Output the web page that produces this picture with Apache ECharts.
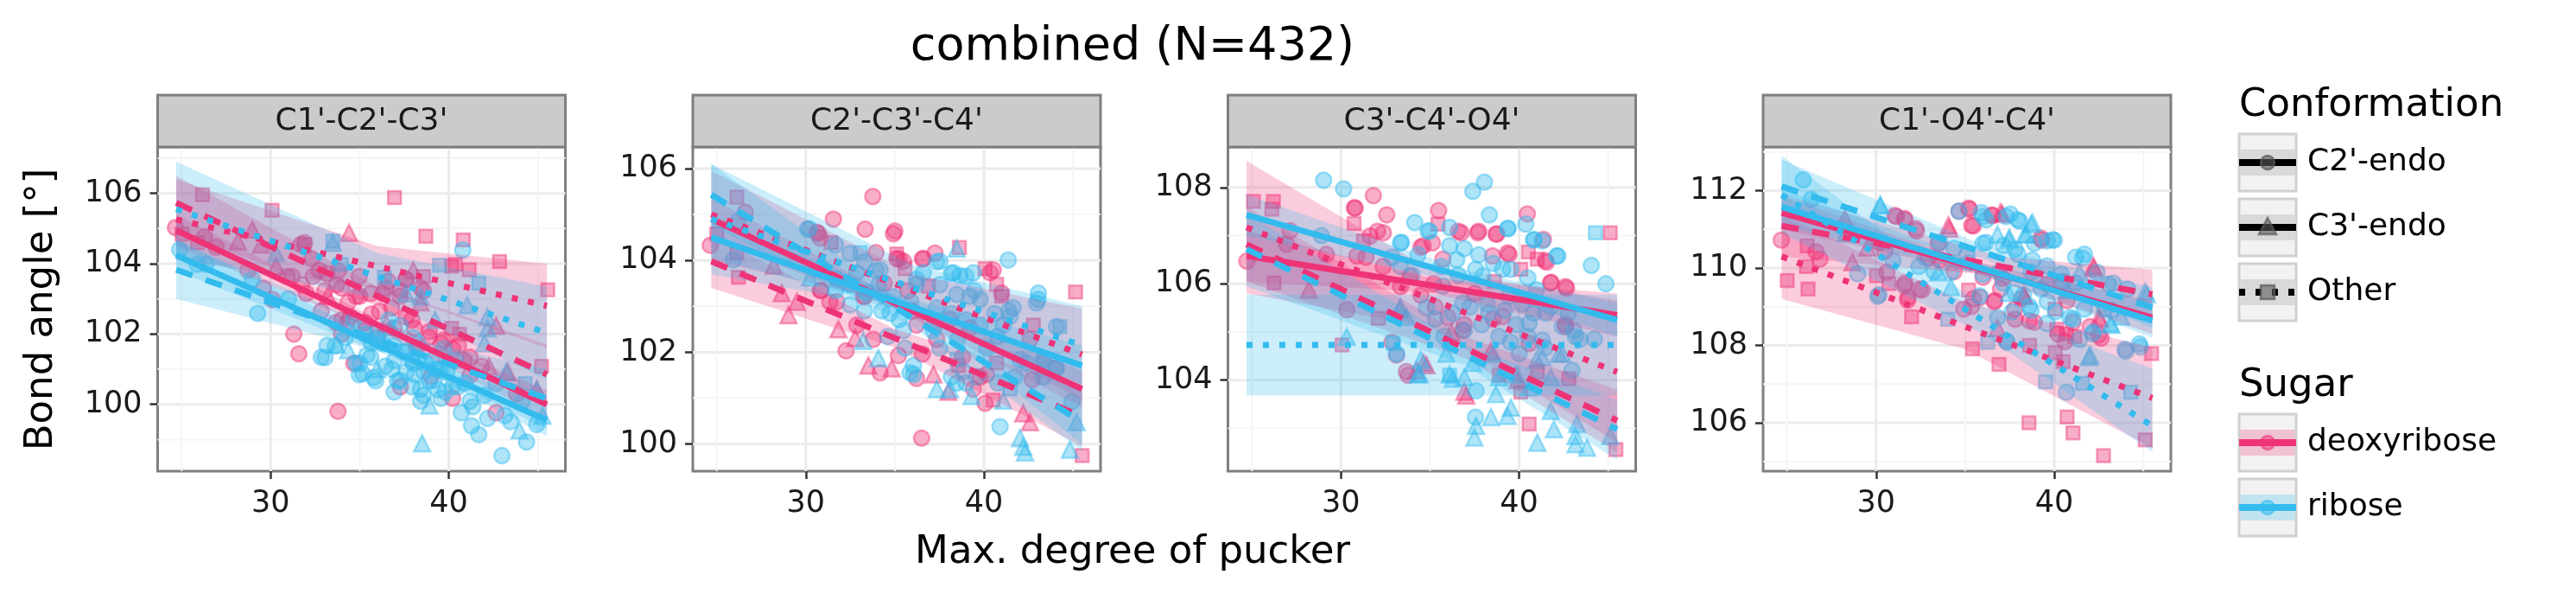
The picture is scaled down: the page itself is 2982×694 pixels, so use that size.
<!DOCTYPE html>
<html>
<head>
    <meta charset="utf-8">
    <title>combined (N=432)</title>
    <script src="https://cdn.jsdelivr.net/npm/echarts@6/dist/echarts.min.js"></script>
    <style>
        html, body { margin: 0; padding: 0; background: #fff; }
        #main { width: 2982px; height: 694px; }
    </style>
</head>
<body>
<div id="main"></div>
<script type="text/javascript">
    // facets and tick labels
    var facets = ["C1'-C2'-C3'", "C2'-C3'-C4'", "C3'-C4'-O4'", "C1'-O4'-C4'"];
    var xRange = [23.66, 46.54];
    var xTicks = [30, 40];
    var xMinor = [25, 35, 45];
    var yRanges = [[98.1, 107.32], [99.41, 106.47], [102.11, 108.84], [104.75, 113.13]];
    var yTicks = [[100, 102, 104, 106], [100, 102, 104, 106], [104, 106, 108], [106, 108, 110, 112]];
    var yMinor = [[99, 101, 103, 105, 107], [101, 103, 105], [103, 105, 107], [105, 107, 109, 111, 113]];

    // fitted lines: x ends shared, rows = [group, yLeft, yRight, loL, hiL, xMid, loM, hiM, loR, hiR]
    var fitX = [24.7, 45.5];
    var p1_fits = [
        ['dC2', 104.95, 100.0, 104.5, 105.4, 36, 102.1, 102.42, 99.6, 100.4],
        ['dC3', 105.73, 100.85, 104.9, 106.5, 36, 102.8, 103.35, 100.0, 101.7],
        ['dO', 105.26, 102.8, 104.1, 106.4, 36, 103.3, 104.5, 101.6, 104.0],
        ['rC2', 104.24, 99.55, 103.8, 104.7, 38, 101.1, 101.4, 99.1, 100.0],
        ['rC3', 103.83, 100.17, 103.0, 104.65, 37, 101.4, 101.95, 99.3, 101.0],
        ['rO', 105.55, 102.03, 104.2, 106.9, 36, 103.0, 104.3, 100.7, 103.35]
    ];
    var p2_fits = [
        ['dC2', 104.9, 101.2, 104.45, 105.35, 35, 102.95, 103.2, 100.8, 101.6],
        ['dC3', 103.98, 100.6, 103.4, 104.55, 35, 102.1, 102.5, 99.95, 101.25],
        ['dO', 105.0, 101.95, 104.0, 105.95, 36, 103.0, 103.7, 100.95, 102.95],
        ['rC2', 104.5, 101.71, 104.05, 104.95, 35, 103.0, 103.25, 101.3, 102.15],
        ['rC3', 105.43, 100.48, 104.75, 106.1, 36, 102.55, 102.95, 99.85, 101.15],
        ['rO', 104.9, 102.15, 103.7, 106.1, 36, 102.9, 103.9, 100.0, 103.0]
    ];
    var p3_fits = [
        ['dC2', 106.58, 105.35, 106.05, 107.1, 35, 105.82, 106.12, 104.9, 105.8],
        ['dC3', 106.82, 103.16, 106.05, 107.6, 37, 104.45, 104.9, 102.5, 103.8],
        ['dO', 107.17, 104.17, 105.8, 108.55, 35, 105.1, 106.3, 102.7, 105.65],
        ['rC2', 107.43, 105.25, 107.0, 107.85, 37, 106.0, 106.28, 104.9, 105.6],
        ['rC3', 106.72, 102.98, 105.95, 107.45, 37, 104.3, 104.72, 102.35, 103.6],
        ['rO', 104.73, 104.73, 103.68, 105.77, 35, 103.68, 105.77, 103.68, 105.77]
    ];
    var p4_fits = [
        ['dC2', 111.43, 108.72, 111.0, 111.85, 35, 109.95, 110.22, 108.3, 109.15],
        ['dC3', 111.09, 109.32, 110.3, 111.9, 37, 109.8, 110.3, 108.7, 109.95],
        ['dO', 110.3, 106.64, 109.2, 111.4, 35, 107.9, 109.1, 105.35, 107.95],
        ['rC2', 111.58, 108.64, 111.1, 112.05, 36, 109.85, 110.12, 108.2, 109.1],
        ['rC3', 112.11, 108.98, 111.45, 112.8, 36, 110.25, 110.6, 108.45, 109.5],
        ['rO', 111.89, 105.92, 110.9, 112.9, 36, 108.3, 109.0, 105.25, 107.4]
    ];

    // points [pucker, angle]  d = deoxyribose, r = ribose, C2 / C3 / O = conformation
    var p1_dC2 = [[24.66,105.03],[26.29,104.76],[26.94,104.47],[28.73,103.81],[30.11,102.98],[31.58,101.44],[33.78,99.8],[31.9,104.6],[30.93,103.64],[31.74,103.4],[32.39,103.64],[33.05,103.23],[33.7,103.4],[34.35,102.9],[35.0,103.07],[35.65,102.57],[36.3,103.15],[36.79,102.74],[37.28,103.23],[37.6,103.56],[37.93,102.4],[38.58,103.23],[38.91,102.07],[39.56,101.74],[40.21,101.58],[40.86,101.25],[41.84,101.08],[42.65,99.76],[40.21,100.17],[37.28,100.5],[34.67,101.17],[41.19,100.83],[32.72,103.81],[29.6,103.3],[35.3,102.1],[36.0,101.9],[38.2,101.6],[39.0,100.8],[43.8,100.3],[34.0,102.4],[31.3,102.0],[36.6,103.5],
        [31.7,104.55],[32.3,104.14],[33.16,103.72],[33.98,103.31],[34.8,103.07],[35.62,103.15],[36.44,103.31],[37.26,103.07],[37.59,103.56],[38.41,103.31],[31.2,103.64],[32.0,103.15],[32.84,102.65],[33.66,102.33],[34.48,102.49],[35.3,102.33],[36.11,102.65],[36.93,102.16],[33.98,102.0],[37.59,102.49],[38.08,102.16],[38.9,101.91],[39.72,101.83],[40.54,101.67],[41.2,101.34],[33.8,103.8],[34.97,103.64],[34.3,102.33]];
    var p1_dC3 = [[28.97,104.97],[28.16,104.64],[29.46,104.55],[34.4,104.88],[30.31,103.93],[38.0,103.81],[38.41,102.9],[42.65,102.24],[42.25,101.08],[43.3,100.92],[44.93,100.42],[36.5,102.3],[33.2,103.1]];
    var p1_dO = [[26.17,105.96],[30.08,105.52],[36.95,105.88],[38.71,104.78],[40.81,104.68],[42.85,104.06],[45.55,103.26],[40.37,103.98],[41.14,103.83],[40.16,103.93],[38.58,103.64],[31.9,104.55],[40.16,102.16],[40.6,102.0],[45.2,101.08],[25.03,104.84],[25.9,104.6]];
    var p1_rC2 = [[25.88,103.98],[26.37,103.98],[28.97,103.56],[29.27,102.59],[33.05,101.33],[33.62,101.66],[35.16,100.88],[35.9,100.67],[35.0,101.17],[36.3,101.74],[36.95,101.25],[37.12,100.67],[37.6,100.92],[37.93,101.25],[38.26,101.74],[38.58,100.26],[38.91,100.67],[39.4,100.42],[39.56,100.17],[39.89,100.92],[40.37,101.25],[40.7,99.76],[41.19,100.09],[41.27,99.39],[41.68,99.14],[41.35,99.93],[42.98,98.54],[43.47,99.51],[44.36,98.93],[44.93,99.43],[44.12,100.09],[42.65,100.59],[40.78,104.39],[37.28,102.24],[36.63,102.4],[36.0,102.07],[34.67,102.4],[35.65,101.74],[39.07,101.25],[39.72,101.58],[42.0,100.26],[40.21,100.5],[37.93,100.5],[38.58,100.92],[37.44,101.5],[43.14,99.68],[42.17,99.6],[38.42,100.09],[36.8,101.0],[39.3,101.0],[40.9,100.6],[35.4,101.4],[38.0,101.9],[34.2,101.9],[24.9,104.4],[31.0,103.0],
        [33.16,101.67],[32.84,101.34],[34.8,101.17],[34.97,100.84],[35.79,100.76],[36.44,101.09],[37.26,100.68],[38.08,100.84],[38.41,100.43],[36.93,100.35],[35.62,101.34],[39.16,100.68],[39.8,100.35],[40.5,100.5],[35.95,101.83],[37.59,101.5],[36.93,101.67],[38.0,101.17],[38.7,101.17],[39.5,101.0],[35.3,102.0]];
    var p1_rC3 = [[34.35,101.54],[33.7,101.7],[35.98,101.0],[38.41,103.07],[39.23,102.4],[41.03,102.82],[42.17,102.49],[42.17,102.16],[42.0,101.74],[43.22,100.92],[44.93,100.42],[45.26,99.68],[43.96,99.26],[38.5,98.89],[38.91,99.97],[37.6,103.15],[33.49,104.6],[30.3,104.3],[36.8,102.2]];
    var p1_rO = [[33.49,104.64],[33.97,103.98],[36.38,103.62],[39.48,103.96],[41.68,103.44],[44.28,100.59]];

    var p2_dC2 = [[24.64,104.33],[26.6,105.05],[31.55,104.9],[33.33,104.68],[33.76,105.39],[35.0,104.64],[34.92,104.58],[33.94,104.17],[36.6,104.04],[37.25,104.16],[35.1,104.04],[35.48,103.98],[30.62,104.61],[30.8,104.49],[32.26,102.03],[34.17,101.55],[35.2,101.93],[36.22,101.43],[36.5,100.13],[40.06,100.89],[40.52,103.79],[40.34,103.73],[40.99,103.29],[42.58,102.28],[33.79,102.28],[32.86,102.59],[31.74,103.1],[33.23,103.22],[38.09,102.72],[39.21,102.53],[37.35,102.28],[40.15,101.52],[39.4,101.2],[30.8,103.35],[36.0,102.9],[34.4,103.5],[38.8,101.9],
        [30.7,104.59],[35.24,104.03],[36.54,104.03],[35.73,103.34],[33.3,103.21],[30.86,103.34],[31.35,103.09],[36.22,102.59],[37.19,102.59],[36.54,101.96],[39.79,101.46],[42.71,101.4]];
    var p2_dC3 = [[28.19,103.89],[28.65,103.29],[29.5,103.1],[29.03,102.81],[31.83,102.5],[32.77,102.31],[33.51,101.71],[34.82,101.65],[37.16,101.52],[38.0,101.14],[42.2,100.67],[42.58,100.48]];
    var p2_dO = [[26.13,105.38],[25.0,104.58],[26.13,104.17],[26.22,103.63],[31.42,104.39],[35.1,104.14],[35.57,103.82],[36.88,103.44],[38.62,104.28],[40.06,103.82],[40.71,103.48],[40.99,103.22],[42.77,102.59],[45.14,103.31],[45.51,99.75],[40.52,100.96],[38.56,101.71],[40.71,101.77]];
    var p2_rC2 = [[30.09,104.68],[25.94,104.01],[26.22,104.86],[41.36,104.01],[43.05,103.29],[42.95,103.07],[44.07,102.56],[44.92,100.92],[40.9,100.38],[44.07,101.65],[43.33,101.84],[36.04,101.71],[35.85,101.55],[37.53,103.98],[38.28,103.73],[38.65,103.67],[39.4,103.73],[39.21,103.22],[38.47,103.26],[37.35,102.97],[36.6,103.73],[36.22,103.48],[34.17,103.79],[32.86,103.73],[31.74,103.6],[41.46,102.78],[41.64,102.97],[41.08,102.59],[38.47,101.33],[38.84,101.58],[39.59,101.46],[35.48,102.47],[34.73,102.85],[37.16,102.47],[40.15,102.09],[42.02,101.84],[43.33,101.46],[33.4,103.3],[35.9,103.1],
        [30.2,104.69],[31.67,104.34],[32.48,104.15],[33.3,103.97],[33.94,103.78],[37.35,103.97],[38.17,103.72],[38.98,103.65],[39.46,103.34],[39.79,103.15],[37.52,103.47],[36.22,103.59],[34.92,103.21],[34.1,103.47],[32.48,103.47],[31.67,103.34],[32.48,103.03],[33.3,102.9],[34.27,102.9],[35.24,102.71],[38.17,102.84],[38.98,102.71],[39.79,102.59],[40.6,102.84],[41.4,102.9],[40.76,102.34],[38.49,102.27],[37.52,102.09],[35.57,102.09],[34.59,102.34],[36.06,101.52],[38.17,101.46],[38.98,101.33],[40.76,101.33],[41.74,101.46],[43.04,103.15],[42.39,101.77],[43.36,101.84],[44.01,101.65]];
    var p2_rC3 = [[30.24,103.63],[33.23,102.25],[34.07,101.87],[37.35,101.2],[38.09,101.2],[39.31,101.05],[41.08,100.95],[42.02,100.13],[42.2,99.94],[42.3,99.82],[44.82,99.88],[45.2,100.48],[38.47,104.26]];
    var p2_rO = [[33.05,104.17],[44.26,102.56],[38.47,101.84],[41.46,101.2]];

    var p3_dC2 = [[24.72,106.47],[31.82,107.83],[30.8,107.57],[32.57,107.43],[35.48,107.52],[36.75,107.06],[37.68,107.06],[38.75,107.03],[40.46,107.45],[41.36,106.92],[41.54,106.45],[41.77,106.02],[42.66,105.91],[42.6,105.11],[39.44,106.61],[38.51,106.58],[32.38,107.06],[31.64,106.99],[30.89,106.58],[30.33,105.46],[29.18,106.61],[27.14,107.1],[26.95,106.82],[33.77,104.1],[33.12,104.52],[35.72,106.51],[34.61,106.79],[33.87,106.16],[36.84,105.04],[39.07,105.32],[40.56,104.76],[37.5,105.8],[36.0,105.3],[35.2,106.0],
        [30.75,107.58],[36.59,107.09],[37.73,107.09],[38.7,107.03],[39.35,106.64],[41.46,106.48],[42.6,105.94],[41.79,106.03],[34.48,106.76],[35.13,106.85],[32.05,107.09],[31.4,106.55],[32.37,106.36],[33.34,105.94],[34.48,105.76],[35.29,105.52],[33.67,104.18],[32.86,104.79],[36.92,105.15],[38.54,105.27],[42.6,105.15]];
    var p3_dC3 = [[28.2,105.88],[34.8,104.31],[37.03,103.68],[34.24,104.2],[38.4,104.6],[39.9,104.0],[36.2,105.0],[34.64,104.36],[36.92,103.76]];
    var p3_dO = [[25.09,107.71],[26.21,107.71],[26.12,107.55],[30.74,107.25],[26.25,106.02],[30.06,104.73],[31.26,106.89],[35.45,107.24],[40.52,106.66],[41.02,106.51],[40.09,106.3],[38.61,106.05],[45.11,107.06],[41.02,104.17],[40.09,103.75],[40.56,103.09],[42.79,104.03],[45.43,102.56],[32.1,105.28],[38.88,104.1]];
    var p3_rC2 = [[29.03,108.15],[30.15,107.97],[34.14,107.27],[37.4,107.92],[38.05,108.11],[38.33,107.43],[39.39,107.15],[40.37,107.24],[40.84,106.92],[41.3,106.89],[42.17,106.58],[44.05,106.38],[44.87,106.0],[34.89,107.1],[36.1,107.17],[33.4,106.86],[37.58,103.78],[37.55,103.23],[42.97,104.2],[41.3,104.83],[40.56,105.18],[39.07,106.3],[37.96,106.16],[36.84,105.6],[35.72,105.95],[39.44,105.74],[41.49,105.39],[42.42,105.11],[43.16,104.9],[33.12,104.55],[40.0,104.55],[38.3,105.4],[36.5,106.5],[34.8,105.5],[28.9,107.0],
        [33.34,106.85],[34.97,107.09],[36.1,106.79],[36.92,106.73],[37.73,106.6],[39.35,107.15],[40.81,106.91],[42.11,106.58],[35.62,106.36],[36.59,106.18],[37.56,106.3],[38.54,106.42],[39.51,106.3],[40.49,106.12],[40.97,105.88],[40.16,105.58],[39.19,105.45],[38.21,105.58],[37.24,105.52],[36.27,105.39],[35.29,105.27],[35.78,104.91],[36.92,105.03],[37.89,105.15],[38.86,104.91],[39.84,105.15],[40.81,105.39],[41.78,105.52],[42.76,105.39],[43.08,105.03],[43.41,104.85],[44.22,104.85],[34.32,106.6],[33.34,106.36],[32.86,106.55],[33.99,106.18],[39.51,104.79],[40.49,104.91],[41.46,104.67]];
    var p3_rC3 = [[30.33,104.9],[34.42,104.13],[36.28,104.03],[37.58,103.05],[37.49,102.81],[38.42,103.23],[39.35,103.26],[39.54,103.43],[41.02,102.7],[41.95,102.98],[43.25,103.09],[43.16,102.84],[43.16,102.67],[43.81,102.6],[45.11,102.84],[38.7,103.71],[40.56,103.85],[41.77,103.36],[42.23,104.55],[33.3,105.46],[33.68,105.32],[35.91,104.55],[41.3,104.48],
        [33.34,105.52],[34.48,104.42],[36.1,104.12],[36.92,104.06],[37.4,104.36],[38.54,104.55],[38.86,104.06],[39.84,104.12],[40.97,104.42],[41.78,104.06],[42.43,104.55],[34.32,104.12]];
    var p3_rO = [[44.28,107.06],[36.1,104.1],[32.94,104.76]];

    var p4_dC2 = [[24.68,110.72],[26.63,110.42],[26.85,110.23],[31.05,111.36],[31.59,111.28],[32.22,111.02],[34.65,111.47],[35.24,111.52],[35.46,111.09],[36.54,111.36],[39.3,110.72],[42.63,108.19],[31.77,109.17],[32.58,109.43],[31.59,109.55],[34.92,108.94],[35.46,109.21],[36.63,109.13],[37.8,108.68],[38.88,108.6],[33.48,110.64],[30.6,109.89],[32.94,110.26],[39.6,109.58],[37.08,109.74],[38.16,109.21],[41.05,108.6],[40.2,108.3],[40.6,108.1],
        [35.19,111.55],[35.36,111.1],[36.49,111.37],[31.14,111.33],[31.62,111.25],[32.27,110.96],[39.25,110.77],[40.71,109.16],[42.01,108.49],[42.5,108.27],[31.62,109.61],[32.44,109.46],[31.79,109.24],[35.36,109.01],[35.84,109.24],[36.66,109.16],[37.79,108.94],[38.6,108.64],[33.57,110.21],[34.38,109.91],[36.0,109.76],[36.98,109.46],[30.49,110.43],[30.16,110.66]];
    var p4_dC3 = [[28.25,111.28],[28.67,110.15],[29.51,110.53],[37.08,111.4],[34.11,111.02],[38.34,109.28],[36.81,108.45],[42.22,110.0],[42.58,108.68],[36.98,111.44],[34.06,111.1],[42.18,110.06],[42.5,108.72],[38.28,109.31]];
    var p4_dO = [[25.01,109.68],[26.18,109.46],[26.09,110.04],[26.13,110.57],[30.02,109.8],[30.72,109.6],[31.99,108.74],[35.41,107.91],[36.9,107.51],[38.58,106.0],[38.61,108.0],[40.05,108.94],[40.14,108.42],[40.68,108.3],[41.14,108.23],[40.05,107.81],[40.5,107.58],[40.72,106.15],[41.05,105.74],[42.76,105.15],[45.46,107.79],[45.1,105.56],[35.19,109.43]];
    var p4_rC2 = [[25.91,112.28],[26.36,111.77],[28.97,109.85],[30.09,109.27],[34.65,111.47],[35.91,111.43],[36.18,111.25],[37.53,111.4],[38.07,111.21],[40.0,110.72],[39.6,110.7],[41.59,110.26],[42.13,108.3],[44.02,107.85],[44.83,107.96],[40.68,106.79],[37.35,108.08],[43.03,109.58],[42.4,109.89],[36.0,110.64],[35.1,110.34],[37.8,110.49],[38.7,109.89],[36.9,109.89],[40.5,109.66],[39.6,109.13],[41.05,108.68],[37.8,109.36],[34.2,109.89],[32.4,110.04],[30.95,110.19],[35.82,109.28],[38.7,108.91],[41.41,108.15],[43.21,108.91],[38.88,110.64],
        [36.0,111.33],[37.3,111.33],[37.95,111.25],[39.9,110.73],[41.2,110.28],[41.69,110.36],[43.31,109.61],[44.12,109.46],[42.18,108.34],[43.96,107.9],[44.77,108.04],[36.17,110.66],[37.14,110.58],[37.95,110.36],[38.77,110.21],[39.58,110.06],[40.39,109.84],[41.2,109.61],[39.25,109.46],[38.28,109.31],[37.14,109.61],[36.0,109.84],[35.19,110.13],[34.38,110.51],[33.57,110.66],[32.76,110.28],[33.25,109.91],[36.82,108.72],[37.63,108.87],[38.6,109.01],[40.06,108.87],[40.88,108.72],[41.69,108.94],[42.82,108.94],[39.58,108.57],[37.3,108.12],[30.16,109.31]];
    var p4_rC3 = [[30.23,111.62],[36.81,110.87],[37.48,110.79],[38.34,110.87],[38.7,111.13],[41.95,107.7],[43.21,108.53],[43.75,108.75],[45.19,109.32],[41.41,109.89],[40.68,109.43],[37.44,109.36],[34.2,109.51],[33.48,109.89],[28.3,110.9],
        [37.46,110.73],[38.44,110.88],[38.77,111.18],[30.24,111.63],[43.15,108.57],[42.01,107.75],[45.1,109.39]];
    var p4_rO = [[34.02,108.68],[36.27,108.08],[39.51,107.06],[41.59,107.02],[44.29,106.79]];

    var panelPoints = [
        {dC2: p1_dC2, dC3: p1_dC3, dO: p1_dO, rC2: p1_rC2, rC3: p1_rC3, rO: p1_rO},
        {dC2: p2_dC2, dC3: p2_dC3, dO: p2_dO, rC2: p2_rC2, rC3: p2_rC3, rO: p2_rO},
        {dC2: p3_dC2, dC3: p3_dC3, dO: p3_dO, rC2: p3_rC2, rC3: p3_rC3, rO: p3_rO},
        {dC2: p4_dC2, dC3: p4_dC3, dO: p4_dO, rC2: p4_rC2, rC3: p4_rC3, rO: p4_rO}
    ];
    var panelFits = [p1_fits, p2_fits, p3_fits, p4_fits];

    // look
    var FONT = '"DejaVu Sans", sans-serif';
    var PINK = [238, 51, 119], BLUE = [51, 187, 238];
    function rgba(c, a) { return 'rgba(' + c[0] + ',' + c[1] + ',' + c[2] + ',' + a + ')'; }
    var symbolOf = {C2: 'circle', C3: 'triangle', O: 'rect'};
    var sizeOf = {C2: 18, C3: 19, O: 15};
    var dashOf = {C2: 'solid', C3: [20, 16], O: [7, 12]};

    var gridLeft = [182.5, 802, 1421.5, 2041];
    var gridW = 472, gridTop = 170, gridH = 375;
    var stripTop = 110, stripH = 60;

    var grids = [], xAxes = [], yAxes = [], series = [], graphics = [];

    facets.forEach(function (name, pi) {
        grids.push({
            left: gridLeft[pi], top: gridTop, width: gridW, height: gridH,
            show: true, backgroundColor: '#fff', borderColor: '#7f7f7f', borderWidth: 3
        });
        xAxes.push({
            gridIndex: pi, type: 'value', min: xRange[0], max: xRange[1],
            splitLine: {show: false}, axisLine: {show: false},
            axisTick: {show: true, customValues: xTicks, length: 9, lineStyle: {color: '#333', width: 2.5}},
            axisLabel: {customValues: xTicks, fontSize: 35, color: '#1a1a1a', margin: 20, fontFamily: FONT}
        });
        yAxes.push({
            gridIndex: pi, type: 'value', min: yRanges[pi][0], max: yRanges[pi][1],
            splitLine: {show: false}, axisLine: {show: false},
            axisTick: {show: true, customValues: yTicks[pi], length: 9, lineStyle: {color: '#333', width: 2.5}},
            axisLabel: {customValues: yTicks[pi], fontSize: 35, color: '#1a1a1a', margin: 18, fontFamily: FONT}
        });

        // panel grid lines
        var yr = yRanges[pi];
        var hData = yTicks[pi].map(function (v) { return [xRange[0], v, 1]; })
            .concat(yMinor[pi].map(function (v) { return [xRange[0], v, 0]; }));
        var vData = xTicks.map(function (v) { return [v, yr[0], 1]; })
            .concat(xMinor.map(function (v) { return [v, yr[0], 0]; }));
        series.push({
            type: 'custom', xAxisIndex: pi, yAxisIndex: pi, z: 1, silent: true,
            encode: {x: 0, y: 1}, data: hData,
            renderItem: function (params, api) {
                var a = api.coord([xRange[0], api.value(1)]);
                var b = api.coord([xRange[1], api.value(1)]);
                var major = api.value(2) === 1;
                return {type: 'line', shape: {x1: a[0], y1: a[1], x2: b[0], y2: b[1]},
                    style: {stroke: major ? '#ebebeb' : '#f5f5f5', lineWidth: major ? 3 : 2}};
            }
        });
        series.push({
            type: 'custom', xAxisIndex: pi, yAxisIndex: pi, z: 1, silent: true,
            encode: {x: 0, y: 1}, data: vData,
            renderItem: function (params, api) {
                var a = api.coord([api.value(0), yr[0]]);
                var b = api.coord([api.value(0), yr[1]]);
                var major = api.value(2) === 1;
                return {type: 'line', shape: {x1: a[0], y1: a[1], x2: b[0], y2: b[1]},
                    style: {stroke: major ? '#ebebeb' : '#f5f5f5', lineWidth: major ? 3 : 2}};
            }
        });

        // points
        ['dC2', 'dC3', 'dO', 'rC2', 'rC3', 'rO'].forEach(function (g) {
            var col = g[0] === 'd' ? PINK : BLUE;
            var conf = g.slice(1);
            series.push({
                type: 'scatter', xAxisIndex: pi, yAxisIndex: pi, z: 2, silent: true,
                symbol: symbolOf[conf], symbolSize: sizeOf[conf],
                itemStyle: {color: rgba(col, 0.5), borderColor: rgba(col, 0.55), borderWidth: 2.5},
                data: panelPoints[pi][g]
            });
        });

        // confidence bands
        panelFits[pi].forEach(function (row) {
            var col = row[0][0] === 'd' ? PINK : BLUE;
            var pts = [[fitX[0], row[3], row[4]], [row[5], row[6], row[7]], [fitX[1], row[8], row[9]]];
            series.push({
                type: 'custom', xAxisIndex: pi, yAxisIndex: pi, z: 3, silent: true,
                encode: {x: 0, y: [1, 2]}, data: pts,
                renderItem: function (params, api) {
                    if (params.dataIndex !== 0) return;
                    var up = pts.map(function (p) { return api.coord([p[0], p[2]]); });
                    var lo = pts.map(function (p) { return api.coord([p[0], p[1]]); }).reverse();
                    return {type: 'polygon', shape: {points: up.concat(lo)}, style: {fill: rgba(col, 0.25)}};
                }
            });
        });

        // fitted lines
        panelFits[pi].forEach(function (row) {
            var col = row[0][0] === 'd' ? PINK : BLUE;
            var conf = row[0].slice(1);
            series.push({
                type: 'line', xAxisIndex: pi, yAxisIndex: pi, z: 4, silent: true,
                symbol: 'none', showSymbol: false,
                lineStyle: {color: rgba(col, 1), width: 7, type: dashOf[conf], cap: 'butt'},
                data: [[fitX[0], row[1]], [fitX[1], row[2]]]
            });
        });

        // facet strip
        graphics.push({
            type: 'rect', z: 10, silent: true,
            shape: {x: gridLeft[pi], y: stripTop, width: gridW, height: stripH},
            style: {fill: '#cbcbcb', stroke: '#7f7f7f', lineWidth: 3}
        });
        graphics.push({
            type: 'text', z: 11, silent: true,
            x: gridLeft[pi] + gridW / 2, y: stripTop + stripH / 2 + 1,
            style: {text: name, font: '36px ' + FONT, fill: '#1a1a1a', textAlign: 'center', textVerticalAlign: 'middle'}
        });
    });

    // titles
    graphics.push({
        type: 'text', silent: true, x: 1311, y: 55,
        style: {text: 'combined (N=432)', font: '54px ' + FONT, fill: '#000', textAlign: 'center', textVerticalAlign: 'middle'}
    });
    graphics.push({
        type: 'text', silent: true, x: 1311, y: 639,
        style: {text: 'Max. degree of pucker', font: '45px ' + FONT, fill: '#000', textAlign: 'center', textVerticalAlign: 'middle'}
    });
    graphics.push({
        type: 'text', silent: true, x: 48, y: 358, rotation: Math.PI / 2,
        style: {text: 'Bond angle [°]', font: '45px ' + FONT, fill: '#000', textAlign: 'center', textVerticalAlign: 'middle'}
    });

    // legend
    var LX = 2592, KEY = 66;
    function legendTitle(text, cy) {
        graphics.push({
            type: 'text', silent: true, x: LX, y: cy,
            style: {text: text, font: '45px ' + FONT, fill: '#000', textAlign: 'left', textVerticalAlign: 'middle'}
        });
    }
    function legendKey(cy, label, lineCol, bandCol, dash, sym, symFill, symStroke) {
        graphics.push({type: 'rect', silent: true, shape: {x: LX, y: cy - KEY / 2, width: KEY, height: KEY},
            style: {fill: '#f2f2f2', stroke: '#d0d0d0', lineWidth: 3}});
        graphics.push({type: 'rect', silent: true, shape: {x: LX + 1.5, y: cy - 15, width: KEY - 3, height: 30},
            style: {fill: bandCol}});
        graphics.push({type: 'line', silent: true, shape: {x1: LX, y1: cy, x2: LX + KEY, y2: cy},
            style: {stroke: lineCol, lineWidth: 8, lineDash: dash, lineCap: 'butt'}});
        var cx = LX + KEY / 2;
        if (sym === 'circle') {
            graphics.push({type: 'circle', silent: true, shape: {cx: cx, cy: cy, r: 8},
                style: {fill: symFill, stroke: symStroke, lineWidth: 2.5}});
        } else if (sym === 'triangle') {
            graphics.push({type: 'polygon', silent: true, shape: {points: [[cx, cy - 11], [cx - 10, cy + 8], [cx + 10, cy + 8]]},
                style: {fill: symFill, stroke: symStroke, lineWidth: 2.5}});
        } else {
            graphics.push({type: 'rect', silent: true, shape: {x: cx - 8, y: cy - 8, width: 16, height: 16},
                style: {fill: symFill, stroke: symStroke, lineWidth: 2.5}});
        }
        graphics.push({
            type: 'text', silent: true, x: 2671, y: cy,
            style: {text: label, font: '36px ' + FONT, fill: '#000', textAlign: 'left', textVerticalAlign: 'middle'}
        });
    }
    legendTitle('Conformation', 122);
    legendKey(188, "C2'-endo", '#000', '#d9d9d9', null, 'circle', 'rgba(90,90,90,0.6)', 'rgba(90,90,90,0.7)');
    legendKey(263, "C3'-endo", '#000', '#d9d9d9', null, 'triangle', 'rgba(90,90,90,0.6)', 'rgba(90,90,90,0.7)');
    legendKey(338, 'Other', '#000', '#d9d9d9', [7, 12], 'rect', 'rgba(90,90,90,0.6)', 'rgba(90,90,90,0.7)');
    legendTitle('Sugar', 446);
    legendKey(512, 'deoxyribose', rgba(PINK, 1), rgba(PINK, 0.25), null, 'circle', rgba(PINK, 0.5), rgba(PINK, 0.55));
    legendKey(587, 'ribose', rgba(BLUE, 1), rgba(BLUE, 0.25), null, 'circle', rgba(BLUE, 0.5), rgba(BLUE, 0.55));

    var chart = echarts.init(document.getElementById('main'), null, {renderer: 'canvas'});
    chart.setOption({
        animation: false,
        backgroundColor: '#fff',
        textStyle: {fontFamily: FONT},
        grid: grids,
        xAxis: xAxes,
        yAxis: yAxes,
        series: series,
        graphic: {elements: graphics}
    });
</script>
</body>
</html>
